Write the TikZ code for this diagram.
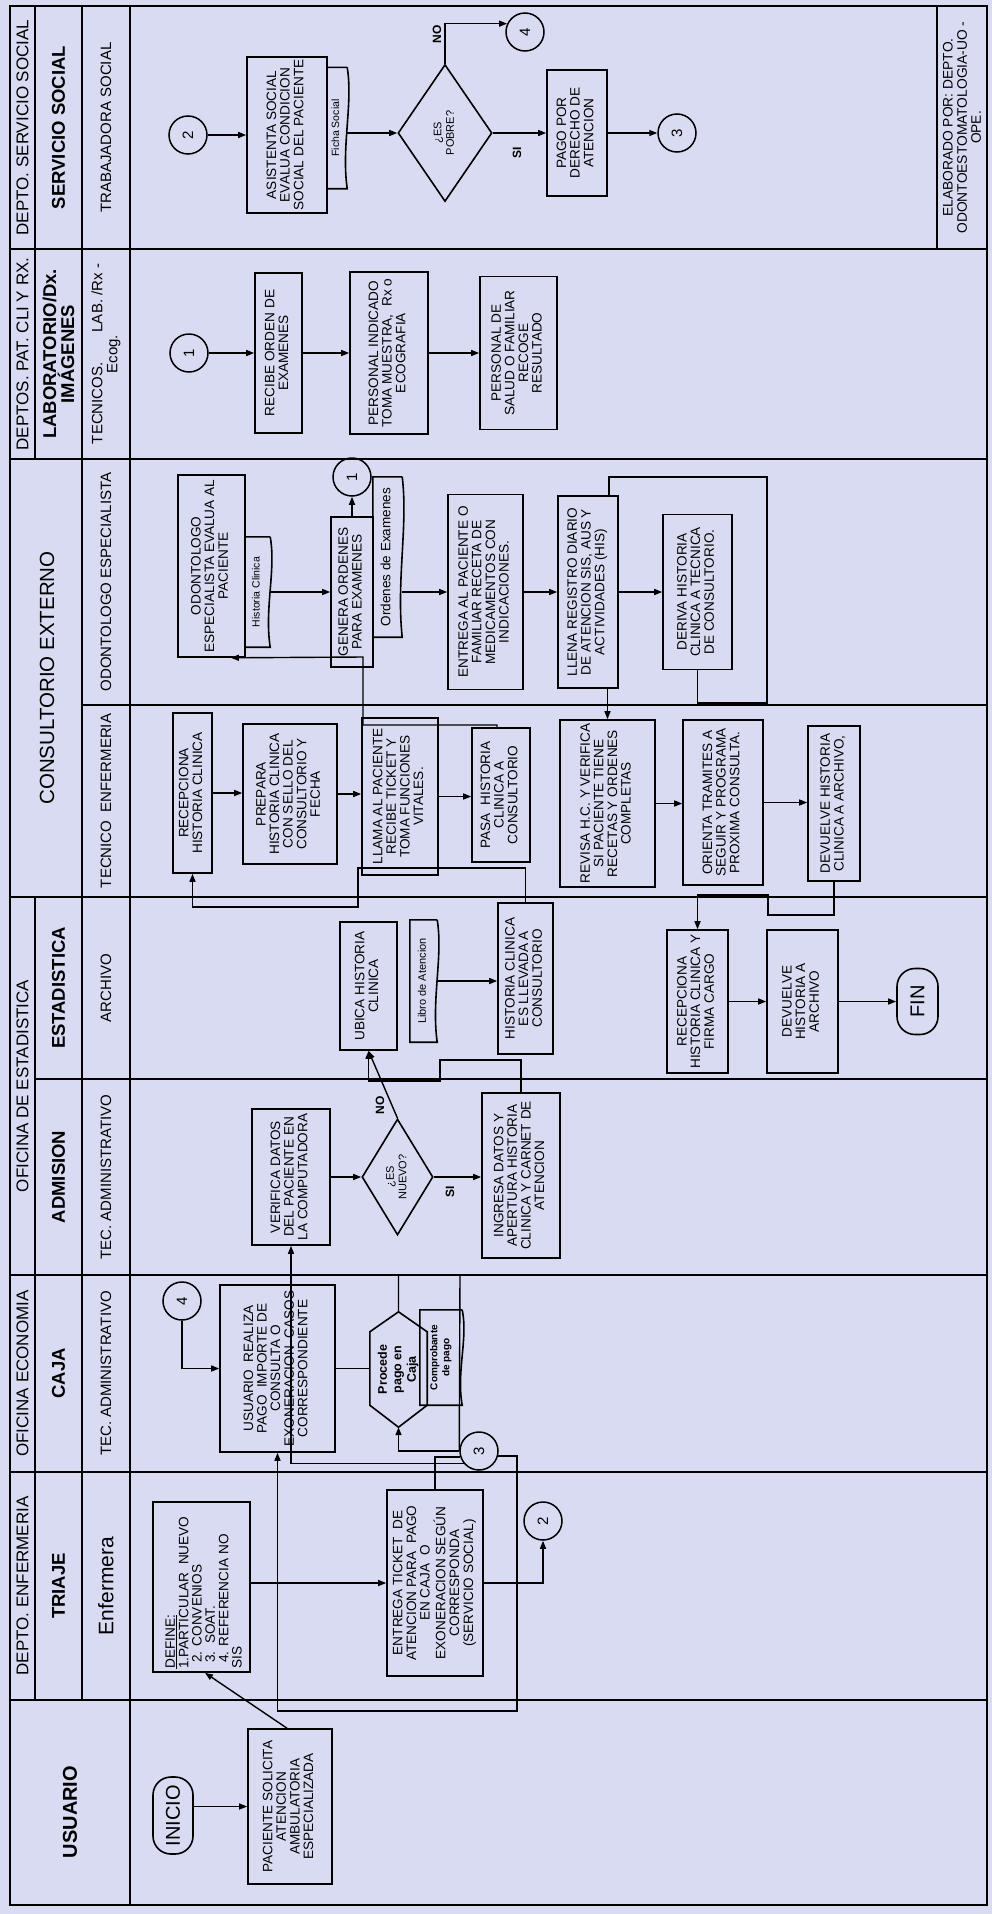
\documentclass[tikz,border=0pt]{standalone}
\usepackage{fontspec}
\setmainfont{Liberation Sans}
\usepackage{graphicx}
\usetikzlibrary{arrows.meta,shapes.geometric,calc}
\definecolor{paper}{RGB}{217,219,242}
\newcommand\fs[2]{\fontsize{#1}{#2}\selectfont}
\newcommand\rt[1]{\rotatebox{90}{\begin{tabular}{@{}c@{}}#1\end{tabular}}}
\newcommand\docshape[1]{\draw[bl] (#1.north east) -- (#1.north west) -- (#1.south west) -- (#1.south east) .. controls ($(#1.south east)!0.35!(#1.north east)+(-6,0)$) and ($(#1.south east)!0.7!(#1.north east)+(6,0)$) .. (#1.north east);}
\begin{document}
\begin{tikzpicture}[x=1pt,y=-1pt,
  lane/.style={line width=2pt},
  bl/.style={line width=1.6pt},
  bx/.style={draw, line width=1.6pt, inner sep=0pt, font=\fs{13.6}{13.6}},
  doc/.style={inner sep=0pt, font=\fs{10.5}{11}},
  cir/.style={circle, draw, line width=1.5pt, minimum size=38pt, inner sep=0pt, font=\fs{15}{15}},
  dia/.style={diamond, draw, line width=1.6pt, inner sep=0pt, font=\fs{11}{12.5}},
  term/.style={draw, line width=1.6pt, rounded corners=18pt, inner sep=0pt, font=\fs{20}{20}},
  lbl/.style={inner sep=0pt, font=\bfseries\fs{12}{12}},
  arr/.style={line width=1.4pt, -{Triangle[length=8pt,width=6pt]}},
  ln/.style={line width=1.4pt},
  hA/.style={rotate=90, inner sep=0pt, font=\fs{17}{17}, align=center},
  hB/.style={rotate=90, inner sep=0pt, font=\bfseries\fs{18.5}{18.5}, align=center},
  hC/.style={rotate=90, inner sep=0pt, font=\fs{15}{15}, align=center}]
\useasboundingbox (0,0) rectangle (992,1914);
\fill[paper] (0,0) rectangle (992,1914);
% ---------- grid ----------
\draw[lane] (10,6) rectangle (987,1905);
\draw[lane] (10,249) -- (987,249);
\draw[lane] (10,459) -- (987,459);
\draw[lane] (82,705) -- (987,705);
\draw[lane] (10,897) -- (987,897);
\draw[lane] (35,1079) -- (987,1079);
\draw[lane] (10,1275) -- (987,1275);
\draw[lane] (10,1472) -- (987,1472);
\draw[lane] (10,1700) -- (987,1700);
\draw[lane] (35,6) -- (35,459);
\draw[lane] (35,897) -- (35,1700);
\draw[lane] (82,6) -- (82,1700);
\draw[lane] (130,6) -- (130,1905);
\draw[lane] (937,6) -- (937,249);
% ---------- header ----------
\node[hA] (hA1) at (22.5,127.5) {DEPTO. SERVICIO SOCIAL};
\node[hA] (hA2) at (22.5,354) {DEPTOS. PAT. CLI Y RX.};
\node[hA, font=\fs{20.5}{20.5}] (hA3) at (47,678) {CONSULTORIO EXTERNO};
\node[hA] (hA4) at (22.5,1086) {OFICINA DE ESTADISTICA};
\node[hA] (hA5) at (22.5,1373.5) {OFICINA ECONOMIA};
\node[hA] (hA6) at (22.5,1586) {DEPTO. ENFERMERIA};
\node[hB, font=\bfseries\fs{20}{20}] (hU) at (70,1812) {USUARIO};
\node[hB] (hB1) at (58.5,127.5) {SERVICIO SOCIAL};
\node[hB, font=\bfseries\fs{18.5}{18}] (hB2) at (58.5,354) {LABORATORIO/Dx.\\IMÁGENES};
\node[hB] (hB5) at (58.5,988) {ESTADISTICA};
\node[hB] (hB6) at (58.5,1177) {ADMISION};
\node[hB] (hB7) at (58.5,1373.5) {CAJA};
\node[hB] (hB8) at (58.5,1586) {TRIAJE};
\node[hC] (hC1) at (106,127.5) {TRABAJADORA SOCIAL};
\node[hC] (hC2) at (106,354) {TECNICOS.\hspace{30pt}LAB. /Rx -\\Ecog.};
\node[hC] (hC3) at (106,582) {ODONTOLOGO ESPECIALISTA};
\node[hC] (hC4) at (106,801) {TECNICO\ \ ENFERMERIA};
\node[hC] (hC5) at (106,988) {ARCHIVO};
\node[hC] (hC6) at (106,1177) {TEC. ADMINISTRATIVO};
\node[hC] (hC7) at (106,1373.5) {TEC. ADMINISTRATIVO};
\node[hC, font=\fs{21}{21}] (hC8) at (106,1586) {Enfermera};
\node[rotate=90, align=center, font=\fs{13.8}{14.2}, inner sep=0pt] (elab) at (962,127.5) {ELABORADO POR: DEPTO.\\ODONTOESTOMATOLOGIA-UO -\\OPE.};
% ---------- lane 1: servicio social ----------
\node[cir] (c2a) at (188,135) {\rotatebox{90}{2}};
\node[bx, minimum width=80pt, minimum height=156pt] (asis) at (287,135) {\rt{ASISTENTA SOCIAL\\EVALUA CONDICION\\SOCIAL DEL PACIENTE}};
\node[doc, minimum width=20pt, minimum height=121pt] (ficha) at (337,128) {\rt{Ficha Social}};
\docshape{ficha}
\node[dia, minimum width=94pt, minimum height=137pt] (d1) at (445,133) {\rt{¿ES\\POBRE?}};
\node[cir] (c4a) at (525,32) {\rotatebox{90}{4}};
\node[bx, minimum width=60pt, minimum height=126pt] (pago) at (577,133) {\rt{PAGO POR\\DERECHO DE\\ATENCION}};
\node[cir] (c3a) at (677,133) {\rotatebox{90}{3}};
\node[lbl] (no1) at (437,34) {\rotatebox{90}{NO}};
\node[lbl] (si1) at (517,153) {\rotatebox{90}{SI}};
\draw[arr] (c2a) -- (asis);
\draw[arr] (ficha.east |- d1.west) -- (d1.west);
\draw[arr] (d1.north) |- (c4a.155);
\draw[arr] (d1.east) -- (pago.west);
\draw[arr] (pago) -- (c3a);
% ---------- lane 2: laboratorio ----------
\node[cir] (c1a) at (189,353) {\rotatebox{90}{1}};
\node[bx, minimum width=47pt, minimum height=160pt] (recibe) at (278.5,353) {\rt{RECIBE ORDEN DE\\EXAMENES}};
\node[bx, minimum width=78pt, minimum height=162pt] (pind) at (389,353) {\rt{PERSONAL INDICADO\\TOMA MUESTRA,\ \ Rx o\\ECOGRAFIA}};
\node[bx, minimum width=77pt, minimum height=153pt] (psal) at (518.5,353) {\rt{PERSONAL DE\\SALUD O FAMILIAR\\RECOGE\\RESULTADO}};
\draw[arr] (c1a) -- (recibe);
\draw[arr] (recibe) -- (pind);
\draw[arr] (pind) -- (psal);
% ---------- lane 3: odontologo ----------
\node[bx, minimum width=67pt, minimum height=182pt] (odont) at (211.5,566) {\rt{ODONTOLOGO\\ESPECIALISTA EVALUA AL\\PACIENTE}};
\node[doc, minimum width=25pt, minimum height=110pt] (hcdoc) at (257.5,592) {\rt{Historia Clinica}};
\docshape{hcdoc}
\node[bx, minimum width=42pt, minimum height=150pt] (genera) at (352,592) {\rt{GENERA ORDENES\\PARA EXAMENES}};
\node[cir] (c1b) at (352,477) {\rotatebox{90}{1}};
\node[doc, minimum width=29pt, minimum height=160pt, font=\fs{13.5}{14}] (orddoc) at (387.5,557) {\rt{Ordenes de Examenes}};
\docshape{orddoc}
\node[bx, minimum width=75pt, minimum height=195pt] (entrega) at (485.5,592) {\rt{ENTREGA AL PACIENTE O\\FAMILIAR RECETA DE\\MEDICAMENTOS CON\\INDICACIONES.}};
\node[bx, minimum width=60pt, minimum height=192pt] (llena) at (588,592) {\rt{LLENA REGISTRO DIARIO\\DE ATENCION SIS, AUS Y\\ACTIVIDADES (HIS)}};
\node[bx, minimum width=69pt, minimum height=155pt] (deriva) at (697.5,592) {\rt{DERIVA HISTORIA\\CLINICA A TECNICA\\DE CONSULTORIO.}};
\draw[arr] (hcdoc.east) -- (genera.west);
\draw[arr] (genera.north) -- (c1b.south);
\draw[arr] (orddoc.east |- entrega.west) -- (entrega.west);
\draw[arr] (entrega) -- (llena);
\draw[arr] (llena) -- (deriva);
\coordinate (lpA) at (767,477);
\coordinate (lpB) at (767,703);
\draw[ln] ([xshift=-10pt]llena.north east) |- (lpA) -- (lpB) -| (deriva.south);
% ---------- lane 4: tecnico enfermeria ----------
\node[bx, minimum width=39pt, minimum height=160pt] (recep) at (192.5,793) {\rt{RECEPCIONA\\HISTORIA CLINICA}};
\node[bx, minimum width=94pt, minimum height=140pt] (prepara) at (290,794) {\rt{PREPARA\\HISTORIA CLINICA\\CON SELLO DEL\\CONSULTORIO Y\\FECHA}};
\node[bx, minimum width=76pt, minimum height=157pt] (llama) at (400,796.5) {\rt{LLAMA AL PACIENTE\\RECIBE TICKET Y\\TOMA FUNCIONES\\VITALES.}};
\node[bx, minimum width=58pt, minimum height=134pt] (pasa) at (501,795) {\rt{PASA\ \ HISTORIA\\CLINICA A\\CONSULTORIO}};
\node[bx, minimum width=95pt, minimum height=167pt] (revisa) at (607.5,803.5) {\rt{REVISA H.C. Y VERIFICA\\SI PACIENTE TIENE\\RECETAS Y ORDENES\\COMPLETAS}};
\node[bx, minimum width=80pt, minimum height=165pt] (orienta) at (723,802.5) {\rt{ORIENTA TRAMITES A\\SEGUIR Y PROGRAMA\\PROXIMA CONSULTA.}};
\node[bx, minimum width=52pt, minimum height=155pt] (devhc) at (834,803.5) {\rt{DEVUELVE HISTORIA\\CLINICA A ARCHIVO,}};
\draw[arr] (recep.east) -- (recep.east -| prepara.west);
\draw[arr] (prepara.east) -- (prepara.east -| llama.west);
\draw[arr] (llama.east) -- (llama.east -| pasa.west);
\draw[arr] (llena.south -| revisa.north) -- (revisa.north);
\draw[arr] (revisa.east) -- (revisa.east -| orienta.west);
\draw[arr] (orienta.east) -- (orienta.east -| devhc.west);
\coordinate (fbA) at (363,725);
\coordinate (fbB) at (363,657);
\draw[arr] ([xshift=-4pt]pasa.north) |- (fbA) -- (fbB) -- ([xshift=-15pt]odont.south east);
% ---------- lane 5: archivo ----------
\node[bx, minimum width=57pt, minimum height=128pt] (ubica) at (368.5,986) {\rt{UBICA HISTORIA\\CLINICA}};
\node[doc, minimum width=27pt, minimum height=122pt, font=\fs{11}{11}] (libro) at (423.5,981) {\rt{Libro de Atencion}};
\docshape{libro}
\node[bx, minimum width=55pt, minimum height=151pt] (hcllev) at (525.5,978.5) {\rt{HISTORIA CLINICA\\ES LLEVADA A\\CONSULTORIO}};
\node[bx, minimum width=61pt, minimum height=143pt] (recepcf) at (697.5,1001.5) {\rt{RECEPCIONA\\HISTORIA CLINICA Y\\FIRMA CARGO}};
\node[bx, minimum width=71pt, minimum height=143pt] (devarch) at (802.5,1001.5) {\rt{DEVUELVE\\HISTORIA A\\ARCHIVO}};
\node[term, minimum width=41pt, minimum height=66pt] (fin) at (917.5,1001.5) {\rotatebox{90}{FIN}};
\draw[arr] (libro.east) -- (libro.east -| hcllev.west);
\draw[arr] (recepcf) -- (devarch);
\draw[arr] (devarch) -- (fin);
\coordinate (dvA) at (768,915);
\coordinate (dvB) at (697.5,895);
\draw[arr] (devhc.south) |- (dvA) |- (dvB) -- (recepcf.north);
\coordinate (hrA) at (358,868);
\coordinate (hrB) at (192.5,907);
\draw[arr] (hcllev.north) |- (hrA) |- (hrB) -- (recep.south);
% ---------- lane 6: admision ----------
\node[bx, minimum width=78pt, minimum height=136pt] (verif) at (291,1177) {\rt{VERIFICA DATOS\\DEL PACIENTE EN\\LA COMPUTADORA}};
\node[dia, minimum width=71pt, minimum height=116pt] (d2) at (397.5,1177) {\rt{¿ES\\NUEVO?}};
\node[bx, minimum width=78pt, minimum height=165pt] (ingresa) at (521,1175.5) {\rt{INGRESA DATOS Y\\APERTURA HISTORIA\\CLINICA Y CARNET DE\\ATENCION}};
\node[lbl] (si2) at (450,1192) {\rotatebox{90}{SI}};
\node[lbl] (no2) at (380,1105) {\rotatebox{90}{NO}};
\draw[arr] (verif) -- (d2);
\draw[arr] (d2.east) -- (d2.east -| ingresa.west);
\draw[arr] (d2.north) -- (ubica.south);
\coordinate (igA) at (440,1060);
\coordinate (igB) at (368.5,1081);
\draw[arr] (ingresa.north) |- (igA) |- (igB) -- (ubica.south);
% ---------- lane 7: caja ----------
\node[cir] (c4b) at (182,1301) {\rotatebox{90}{4}};
\node[bx, minimum width=115pt, minimum height=167pt] (usu) at (277.5,1368.5) {\rt{USUARIO\ \ REALIZA\\PAGO\ \ IMPORTE DE\\CONSULTA O\\EXONERACION\ \ CASOS\\CORRESPONDIENTE}};
\node[inner sep=0pt, minimum width=57pt, minimum height=115pt, font=\bfseries\fs{12.5}{14.5}] (hex) at (398.5,1369.5) {\rt{Procede\\pago en\\Caja}};
\draw[bl] (hex.north) -- ([yshift=-20pt]hex.north east) -- ([yshift=22pt]hex.south east) -- (hex.south) -- ([yshift=22pt]hex.south west) -- ([yshift=-20pt]hex.north west) -- cycle;
\node[doc, minimum width=42pt, minimum height=95pt, font=\bfseries\fs{10}{12}] (comp) at (441,1357.5) {\rt{Comprobante\\de pago}};
\docshape{comp}
\node[cir] (c3b) at (479,1451) {\rotatebox{90}{3}};
\draw[arr] (c4b.south) |- (usu.west);
\draw[ln] (usu.east) -- (usu.east -| hex.west);
\coordinate (hxA) at (460,1275);
\draw[ln] (hex.north) |- (hxA) -- (c3b.west);
\draw[arr] (c3b.west) -| (hex.south);
\draw[arr] (c3b.219) -| (verif.south);
% ---------- lane 8: triaje ----------
\node[bx, minimum width=97pt, minimum height=170pt] (define) at (201.5,1587) {};
\node[rotate=90, anchor=west, inner sep=0pt, font=\fs{13.6}{12.8}] (deftxt) at ([xshift=4pt,yshift=4pt]define.south) {\begin{tabular}{@{}l@{}}\underline{DEFINE:}\\1.PARTICULAR\ \ NUEVO\\\hspace{6pt}2. CONVENIOS\\\hspace{6pt}3.\ \ SOAT.\\\hspace{6pt}4. REFERENCIA NO\\SIS\end{tabular}};
\node[bx, minimum width=96pt, minimum height=186pt] (ent2) at (435,1583) {\rt{ENTREGA TICKET\ \ DE\\ATENCION PARA\ \ PAGO\\EN CAJA\ \ O\\EXONERACION SEGÚN\\CORRESPONDA\\(SERVICIO SOCIAL)}};
\node[cir] (c2b) at (543,1521) {\rotatebox{90}{2}};
\draw[arr] (define.east |- ent2.west) -- (ent2.west);
\draw[arr] (ent2.east) -| (c2b.south);
\draw[ln] (ent2.north) |- (c3b.198);
\coordinate (lq) at (517,1711);
\draw[arr] (c3b.-15) -| (lq) -| (usu.south);
% ---------- lane 9: usuario ----------
\node[term, minimum width=40pt, minimum height=77pt] (inicio) at (173,1815.5) {\rotatebox{90}{INICIO}};
\node[bx, minimum width=84pt, minimum height=155pt] (pac) at (290,1806.5) {\rt{PACIENTE SOLICITA\\ATENCION\\AMBULATORIA\\ESPECIALIZADA}};
\draw[arr] (inicio.east |- pac.west) -- (pac.west);
\draw[arr] ([xshift=-3pt]pac.north) -- ([xshift=3.5pt]define.south);
\end{tikzpicture}
\end{document}
